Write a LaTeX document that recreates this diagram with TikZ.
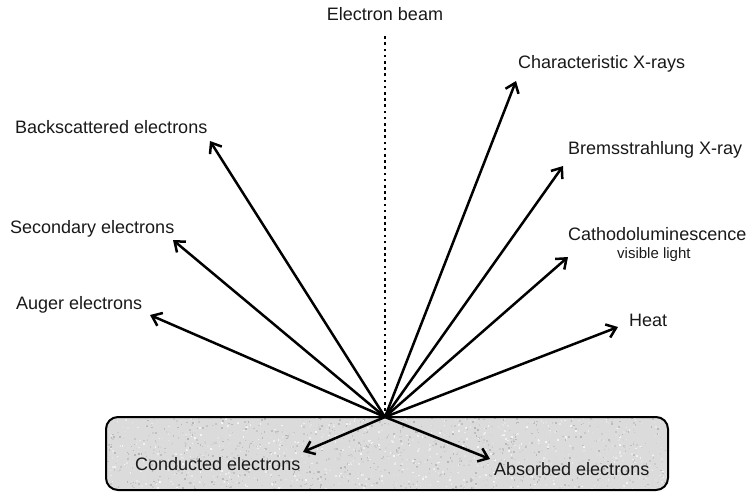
\documentclass[tikz,border=0pt]{standalone}
\usepackage{fontspec}
\setmainfont{Liberation Sans}
\usetikzlibrary{arrows.meta}
\begin{document}
\begin{tikzpicture}[x=1pt,y=-1pt,
  ray/.style={line width=2.5pt,-{Straight Barb[length=9pt,width=14pt,line width=2.5pt]}},
  lbl/.style={font=\fontsize{18}{21}\selectfont,inner sep=0pt,text=black!90},
  small/.style={font=\fontsize{15}{17}\selectfont,inner sep=0pt,text=black!90}]
\useasboundingbox (0,0) rectangle (749,493);
% sample block
\fill[black!14,rounded corners=12pt] (106,417) rectangle (668,490);
\begin{scope}
  \clip[rounded corners=12pt] (106,417) rectangle (668,490);
  \pgfmathsetseed{7}
  \foreach \i in {1,...,1800}{
    \pgfmathsetmacro{\px}{106+562*rnd}
    \pgfmathsetmacro{\py}{417+73*rnd}
    \pgfmathsetmacro{\pg}{int(4+26*rnd)}
    \fill[black!\pg] (\px,\py) rectangle +(1.6,1.6);
  }
\end{scope}
\draw[line width=2pt,rounded corners=12pt] (106,417) rectangle (668,490);
\coordinate (c) at (385,417);
\coordinate (top) at (385,36);
\draw[line width=2.6pt,dash pattern=on 2.6pt off 3.6pt] (c) -- (top);
% arrow tips
\coordinate (bs) at (210,141);
\coordinate (se) at (173,240);
\coordinate (au) at (150,315);
\coordinate (cx) at (516,81);
\coordinate (br) at (563,166);
\coordinate (cl) at (568,257);
\coordinate (he) at (618,327);
\coordinate (co) at (303,452);
\coordinate (ab) at (490,459);
\foreach \t in {bs,se,au,cx,br,cl,he,co,ab}{\draw[ray] (c) -- (\t);}
% labels
\node[lbl] (leb) at (385,14) {Electron beam};
\node[lbl,anchor=west] (lcx) at (518,64) {Characteristic X-rays};
\node[lbl,anchor=west] (lbs) at (15,127) {Backscattered electrons};
\node[lbl,anchor=west] (lbr) at (568,150) {Bremsstrahlung X-ray};
\node[lbl,anchor=west] (lse) at (10,229) {Secondary electrons};
\node[lbl,anchor=west] (lcl) at (568,234) {Cathodoluminescence};
\node[small,anchor=west] (lvl) at (617,255) {visible light};
\node[lbl,anchor=west] (lau) at (16,305) {Auger electrons};
\node[lbl,anchor=west] (lhe) at (629,320) {Heat};
\node[lbl,anchor=west] (lco) at (135,464) {Conducted electrons};
\node[lbl,anchor=west] (lab) at (494,469) {Absorbed electrons};
\end{tikzpicture}
\end{document}
